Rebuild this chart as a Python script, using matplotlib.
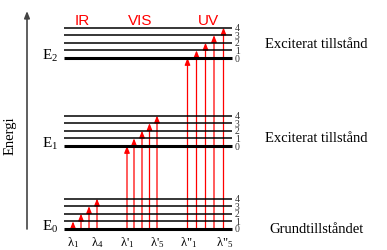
import matplotlib
matplotlib.use("Agg")
import matplotlib.pyplot as plt
from matplotlib.patches import FancyArrowPatch

# Energinivåer (bas för varje elektronnivå) och vibrationsnivåer
group_names = ["E$_0$", "E$_1$", "E$_2$"]
group_base = [21.0, 104.0, 192.0]
vib_levels = [0, 1, 2, 3, 4]
vib_step = 7.6

state_labels = ["Grundtillståndet", "Exciterat tillstånd", "Exciterat tillstånd"]
state_dy = [0, 9, 14]

# Övergångar: x-läge, målnivå
ir_x = [73, 81, 89, 97]
ir_to = [1, 2, 3, 4]
vis_x = [127, 134, 142, 149.5, 157]
vis_to = [0, 1, 2, 3, 4]
uv_x = [187.5, 196.5, 205.5, 214, 223.5]
uv_to = [0, 1, 2, 3, 4]

band_names = ["IR", "VIS", "UV"]
band_x = [82, 140, 208]

wl_labels = ["λ$_1$", "λ$_4$", "λ'$_1$", "λ'$_5$", 'λ"$_1$', 'λ"$_5$']
wl_x = [73, 97, 127, 157, 189, 225]

line_x0, line_x1 = 64, 232

plt.rcParams['mathtext.fontset'] = 'custom'
plt.rcParams['mathtext.rm'] = 'Liberation Serif'
plt.rcParams['mathtext.it'] = 'Liberation Serif:italic'

fig = plt.figure(figsize=(3.87, 2.51), dpi=100)
ax = fig.add_axes([0, 0, 1, 1])
ax.set_xlim(0, 387)
ax.set_ylim(0, 251)
ax.axis('off')

serif = 'Liberation Serif'

def level_y(g, v):
    return group_base[g] + v * vib_step

# nivålinjer
for g in range(3):
    for v in vib_levels:
        y = level_y(g, v)
        ax.plot([line_x0, line_x1], [y, y], color='black',
                lw=2.2 if v == 0 else 1.1, solid_capstyle='butt')
        ax.text(line_x1 + 3, y, str(v), fontsize=7, family=serif,
                ha='left', va='center', color='#333333')
    ax.text(42, group_base[g] + 3, group_names[g], fontsize=11, family=serif,
            ha='left', va='center')
    ax.text(316, group_base[g] + state_dy[g], state_labels[g],
            fontsize=10.5, family=serif, ha='center', va='center')

def arrow(x, y0, y1, col='red', lw=0.9):
    p = FancyArrowPatch((x, y0), (x, y1),
                        arrowstyle='-|>,head_length=0.4,head_width=0.16',
                        mutation_scale=10, color=col, lw=lw,
                        shrinkA=0, shrinkB=0)
    ax.add_patch(p)

y_start = level_y(0, 0)
for x, v in zip(ir_x, ir_to):
    arrow(x, y_start, level_y(0, v))
for x, v in zip(vis_x, vis_to):
    arrow(x, y_start, level_y(1, v))
for x, v in zip(uv_x, uv_to):
    arrow(x, y_start, level_y(2, v))

for name, x in zip(band_names, band_x):
    ax.text(x, 230, name, fontsize=11, family='Liberation Sans', color='red',
            ha='center', va='center')

for lab, x in zip(wl_labels, wl_x):
    ax.text(x, 8, lab, fontsize=9, family=serif, ha='center', va='center')

# energiaxel
arrow(27, 21, 239, col='#444444', lw=1.2)
ax.text(10, 115, "Energi", fontsize=10.5, family=serif, rotation=90,
        ha='center', va='center')

fig.savefig("out.png", dpi=100)
